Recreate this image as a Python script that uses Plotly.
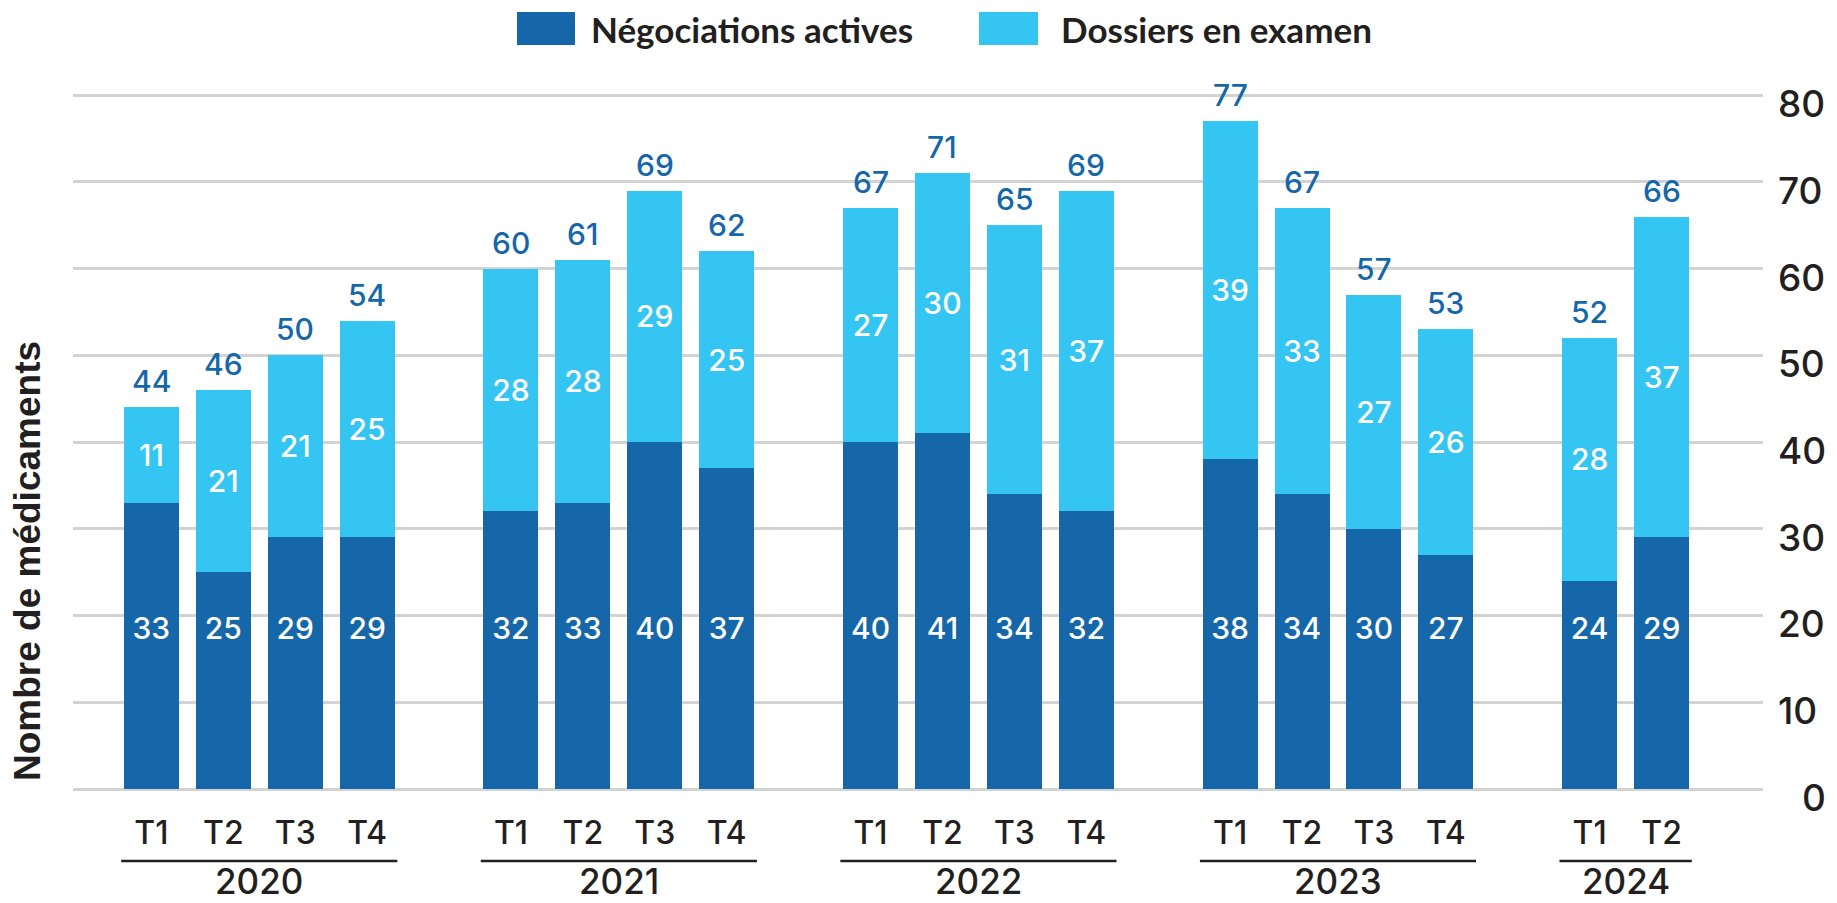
import plotly.graph_objects as go

# ---------------- data ----------------
years = ["2020", "2021", "2022", "2023", "2024"]
quarters = [["T1", "T2", "T3", "T4"],
            ["T1", "T2", "T3", "T4"],
            ["T1", "T2", "T3", "T4"],
            ["T1", "T2", "T3", "T4"],
            ["T1", "T2"]]
negociations = [33, 25, 29, 29, 32, 33, 40, 37, 40, 41, 34, 32, 38, 34, 30, 27, 24, 29]
dossiers = [11, 21, 21, 25, 28, 28, 29, 25, 27, 30, 31, 37, 39, 33, 27, 26, 28, 37]
y_ticks = [0, 10, 20, 30, 40, 50, 60, 70, 80]
series_names = ["Négociations actives", "Dossiers en examen"]

# ---------------- style ----------------
DARK = "#1667A9"
LIGHT = "#35C5F3"
TEXT = "#231F20"
GRID = "#D3D3D3"
NUM_FONT = "Inter, Lato, sans-serif"
W, H = 1837, 903
Y_TOP = 80.25
ML, MR, MB = 73, 74, 114
MT = 95 - round((Y_TOP - 80) * (789 - 95) / 80)
PW, PH = W - ML - MR, H - MT - MB
DARK_LABEL_ROW = 18.2  # value level at which the dark-segment labels sit


def px_x(px):
    return (px - ML) / PW


def px_y(py):
    return (H - MB - py) / PH


# slot positions: one empty slot between years
xs, tick_text, groups = [], [], []
pos = 0
for yr, qs in zip(years, quarters):
    start = pos
    for q in qs:
        xs.append(pos)
        tick_text.append(q)
        pos += 1
    groups.append((yr, start, pos - 1))
    pos += 1

totals = [a + b for a, b in zip(negociations, dossiers)]

fig = go.Figure()
fig.add_trace(go.Bar(
    x=xs, y=negociations, name=series_names[0], marker_color=DARK,
    marker_line_width=0, textposition="none", showlegend=False,
))
fig.add_trace(go.Bar(
    x=xs, y=dossiers, name=series_names[1], marker_color=LIGHT,
    marker_line_width=0, text=[str(v) for v in dossiers],
    textposition="inside", insidetextanchor="middle", constraintext="none",
    textfont=dict(color="white", size=30, family=NUM_FONT, weight=500),
    showlegend=False,
))
# labels of dark segments (on a common row)
fig.add_trace(go.Scatter(
    x=xs, y=[DARK_LABEL_ROW] * len(xs), mode="text",
    text=[str(v) for v in negociations],
    textfont=dict(color="white", size=30, family=NUM_FONT, weight=500),
    showlegend=False, hoverinfo="skip",
))

shapes, annotations = [], []
# totals on top
for x, t in zip(xs, totals):
    annotations.append(dict(x=x, y=t, xref="x", yref="y", text=str(t), showarrow=False,
                            yanchor="bottom", yshift=6,
                            font=dict(size=30, color=DARK, family=NUM_FONT, weight=500)))
# year lines & labels
for yr, a, b in groups:
    shapes.append(dict(type="line", xref="x", yref="paper",
                       x0=a - 0.42, x1=b + 0.42, y0=px_y(861), y1=px_y(861),
                       line=dict(color=TEXT, width=2.5)))
    annotations.append(dict(x=(a + b) / 2, y=px_y(881), xref="x", yref="paper",
                            text=yr, showarrow=False, yanchor="middle",
                            font=dict(size=35, color=TEXT, family=NUM_FONT, weight=500)))

# custom legend
leg = [(series_names[0], DARK, 517, 575, 589), (series_names[1], LIGHT, 979, 1038, 1059)]
for name, col, x0, x1, tx in leg:
    shapes.append(dict(type="rect", xref="paper", yref="paper",
                       x0=px_x(x0), x1=px_x(x1), y0=px_y(45), y1=px_y(12),
                       fillcolor=col, line=dict(width=0)))
    annotations.append(dict(x=px_x(tx), y=px_y(29), xref="paper", yref="paper",
                            text=name, showarrow=False, xanchor="left", yanchor="middle",
                            font=dict(size=35, color=TEXT, family="Lato, sans-serif",
                                      weight="bold")))

# y axis title (left)
annotations.append(dict(x=px_x(27), y=px_y(561), xref="paper", yref="paper",
                        text="Nombre de médicaments", textangle=-90, showarrow=False,
                        xanchor="center", yanchor="middle",
                        font=dict(size=37, color=TEXT, family="Liberation Sans, Arial, sans-serif",
                                  weight="bold")))

fig.update_layout(
    width=W, height=H,
    margin=dict(l=ML, r=MR, t=MT, b=MB, autoexpand=False),
    barmode="stack", bargap=0.235,
    plot_bgcolor="white", paper_bgcolor="white",
    shapes=shapes, annotations=annotations,
    showlegend=False,
    xaxis=dict(range=[xs[0] - 1.09, xs[-1] + 1.41], tickvals=xs, ticktext=tick_text,
               showgrid=False, zeroline=False, showline=False, ticks="",
               ticklabelstandoff=22, automargin=False,
               tickfont=dict(size=32, color=TEXT, family=NUM_FONT, weight=500)),
    yaxis=dict(range=[0, Y_TOP], side="right", tickvals=y_ticks,
               ticktext=[f"{v:>2}".replace(" ", "\u2007") for v in y_ticks],
               showgrid=True, gridcolor=GRID, gridwidth=2.5,
               zeroline=True, zerolinecolor=GRID, zerolinewidth=2.5,
               showline=False, ticks="", ticklabelstandoff=14, ticklabelshift=9,
               automargin=False,
               tickfont=dict(size=37, color=TEXT, family=NUM_FONT, weight=500)),
)

fig.write_html("out.html", config={"displayModeBar": False},
               post_script="document.body.style.margin='0';document.body.style.overflow='hidden';")
